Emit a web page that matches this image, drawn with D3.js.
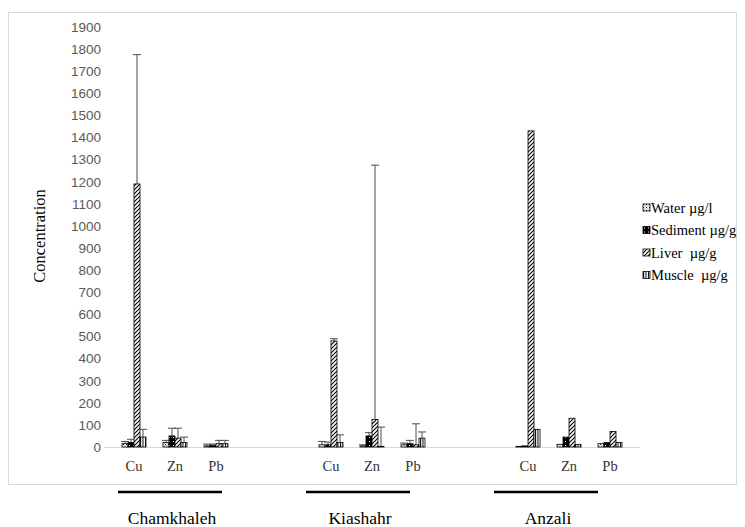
<!DOCTYPE html>
<html>
<head>
<meta charset="utf-8">
<script src="https://cdn.jsdelivr.net/npm/d3@7"></script>
<style>
  body { margin: 0; background: #fff; }
  svg { display: block; }
</style>
</head>
<body>
<div class="canvas"></div>
<script>
// data
const sites = ['Chamkhaleh', 'Kiashahr', 'Anzali'];
const metals = ['Cu', 'Zn', 'Pb'];
const seriesNames = ['Water \u00b5g/l', 'Sediment \u00b5g/g', 'Liver  \u00b5g/g', 'Muscle  \u00b5g/g'];
const yTicks = d3.range(0, 1901, 100);

// values in order site x metal (Cu, Zn, Pb for each site)
const water    = [15, 20, 5, 10, 5, 10, 3, 12, 15];
const sediment = [20, 50, 8, 10, 50, 15, 5, 45, 20];
const liver    = [1190, 40, 15, 480, 125, 10, 1430, 130, 70];
const muscle   = [45, 20, 15, 20, 3, 40, 80, 12, 20];

// upper error (added on top of bar)
const waterErr    = [10, 10, 8, 15, 5, 8, 0, 0, 0];
const sedimentErr = [15, 35, 5, 12, 15, 15, 0, 0, 0];
const liverErr    = [585, 45, 15, 10, 1150, 95, 0, 0, 0];
const muscleErr   = [35, 25, 15, 35, 87, 28, 0, 0, 0];

const seriesVals = [water, sediment, liver, muscle];
const seriesErr = [waterErr, sedimentErr, liverErr, muscleErr];
const patternIds = ['pWater', 'pSediment', 'pLiver', 'pMuscle'];

const dimension = { width: 745, height: 527 };
const serif = '"Liberation Serif", "Times New Roman", serif';

const svg = d3.select('.canvas')
    .append('svg')
    .attr('width', dimension.width)
    .attr('height', dimension.height);

svg.append('rect')
    .attr('width', dimension.width).attr('height', dimension.height)
    .attr('fill', '#fff');

// patterns
const defs = svg.append('defs');

const pw = defs.append('pattern').attr('id', 'pWater')
    .attr('patternUnits', 'userSpaceOnUse').attr('width', 3).attr('height', 3);
pw.append('rect').attr('width', 3).attr('height', 3).attr('fill', '#fff');
pw.append('rect').attr('width', 1).attr('height', 1).attr('fill', '#000');
pw.append('rect').attr('x', 1.5).attr('y', 1.5).attr('width', 1).attr('height', 1).attr('fill', '#555');

const ps = defs.append('pattern').attr('id', 'pSediment')
    .attr('patternUnits', 'userSpaceOnUse').attr('width', 4).attr('height', 4);
ps.append('rect').attr('width', 4).attr('height', 4).attr('fill', '#000');
ps.append('rect').attr('x', 1).attr('y', 1).attr('width', 1).attr('height', 1).attr('fill', '#fff');

const pl = defs.append('pattern').attr('id', 'pLiver')
    .attr('patternUnits', 'userSpaceOnUse').attr('width', 4).attr('height', 4);
pl.append('rect').attr('width', 4).attr('height', 4).attr('fill', '#fff');
pl.append('path').attr('d', 'M-1,1 l2,-2 M0,4 l4,-4 M3,5 l2,-2')
    .attr('stroke', '#000').attr('stroke-width', 1.1);

const pm = defs.append('pattern').attr('id', 'pMuscle')
    .attr('patternUnits', 'userSpaceOnUse').attr('width', 2.5).attr('height', 4);
pm.append('rect').attr('width', 2.5).attr('height', 4).attr('fill', '#fff');
pm.append('rect').attr('width', 1).attr('height', 4).attr('fill', '#000');

// chart frame
svg.append('rect')
    .attr('x', 8.5).attr('y', 12.5)
    .attr('width', 728).attr('height', 472)
    .attr('fill', 'none')
    .attr('stroke', '#d9d9d9');

// scales
const y = d3.scaleLinear().domain([0, 1900]).range([447, 27]);
const xSite = d3.scalePoint().domain(sites).range([108, 636]).padding(0.34);
const xMetal = d3.scalePoint().domain(metals).range([-41, 41]);
const xSeries = d3.scaleBand().domain(d3.range(4)).range([-12, 12]);

// y axis labels
const yAxis = d3.axisLeft(y).tickValues(yTicks).tickSize(0).tickPadding(0).tickFormat(d3.format('d'));
const yG = svg.append('g').attr('transform', 'translate(101,0)').call(yAxis);
yG.select('.domain').remove();
yG.selectAll('text')
    .attr('fill', '#595959')
    .style('font-family', '"Liberation Sans", Arial, sans-serif')
    .style('font-size', '13.5px');

svg.append('text')
    .attr('transform', 'translate(45,236) rotate(-90)')
    .attr('text-anchor', 'middle')
    .style('font-family', serif)
    .style('font-size', '16.5px')
    .text('Concentration');

// x axis line
svg.append('line')
    .attr('x1', 104).attr('x2', 640)
    .attr('y1', y(0) + 0.5).attr('y2', y(0) + 0.5)
    .attr('stroke', '#d9d9d9');

// build rows
const rows = [];
sites.forEach((s, si) => {
    metals.forEach((m, mi) => {
        const k = si * metals.length + mi;
        seriesVals.forEach((vals, i) => {
            rows.push({ site: s, metal: m, series: i, value: vals[k], err: seriesErr[i][k] });
        });
    });
});

const xPos = d => xSite(d.site) + xMetal(d.metal) + xSeries(d.series);

const graph = svg.append('g');

// error bars
const eb = graph.selectAll('g.err')
    .data(rows.filter(d => d.err > 0))
    .enter().append('g').attr('class', 'err');
eb.append('line')
    .attr('x1', d => xPos(d) + xSeries.bandwidth() / 2)
    .attr('x2', d => xPos(d) + xSeries.bandwidth() / 2)
    .attr('y1', d => y(d.value))
    .attr('y2', d => y(d.value + d.err))
    .attr('stroke', '#4d4d4d').attr('stroke-width', 1);
eb.append('line')
    .attr('x1', d => xPos(d) + xSeries.bandwidth() / 2 - 4)
    .attr('x2', d => xPos(d) + xSeries.bandwidth() / 2 + 4)
    .attr('y1', d => y(d.value + d.err))
    .attr('y2', d => y(d.value + d.err))
    .attr('stroke', '#4d4d4d').attr('stroke-width', 1);

// bars
graph.selectAll('rect.bar')
    .data(rows)
    .enter().append('rect')
    .attr('class', 'bar')
    .attr('x', d => xPos(d))
    .attr('y', d => y(d.value))
    .attr('width', xSeries.bandwidth())
    .attr('height', d => y(0) - y(d.value))
    .attr('fill', d => `url(#${patternIds[d.series]})`)
    .attr('stroke', '#000')
    .attr('stroke-width', 0.8);

// metal labels
const catLabels = [];
sites.forEach(s => metals.forEach(m => catLabels.push({ site: s, metal: m })));
svg.selectAll('text.cat')
    .data(catLabels)
    .enter().append('text')
    .attr('class', 'cat')
    .attr('x', d => xSite(d.site) + xMetal(d.metal))
    .attr('y', 471)
    .attr('text-anchor', 'middle')
    .attr('fill', '#333')
    .style('font-family', serif)
    .style('font-size', '14.5px')
    .text(d => d.metal);

// site annotations below the frame
const xNote = d3.scalePoint().domain(sites).range([170, 546]);
svg.selectAll('line.site')
    .data(sites)
    .enter().append('line')
    .attr('x1', d => xNote(d) - 52)
    .attr('x2', d => xNote(d) + 52)
    .attr('y1', 492).attr('y2', 492)
    .attr('stroke', '#000').attr('stroke-width', 2.5);
svg.selectAll('text.site')
    .data(sites)
    .enter().append('text')
    .attr('x', d => xNote(d) + 2)
    .attr('y', 524)
    .attr('text-anchor', 'middle')
    .style('font-family', serif)
    .style('font-size', '17.5px')
    .text(d => d);

// legend
const legend = svg.append('g').attr('transform', 'translate(643,204)');
const li = legend.selectAll('g')
    .data(seriesNames)
    .enter().append('g')
    .attr('transform', (d, i) => `translate(0, ${i * 22.5})`);
li.append('rect')
    .attr('width', 7).attr('height', 7)
    .attr('fill', (d, i) => `url(#${patternIds[i]})`)
    .attr('stroke', '#000').attr('stroke-width', 0.8);
li.append('text')
    .attr('x', 8).attr('y', 8.5)
    .style('font-family', serif)
    .style('font-size', '14.5px')
    .style('white-space', 'pre')
    .attr('xml:space', 'preserve')
    .text(d => d);
</script>
</body>
</html>
